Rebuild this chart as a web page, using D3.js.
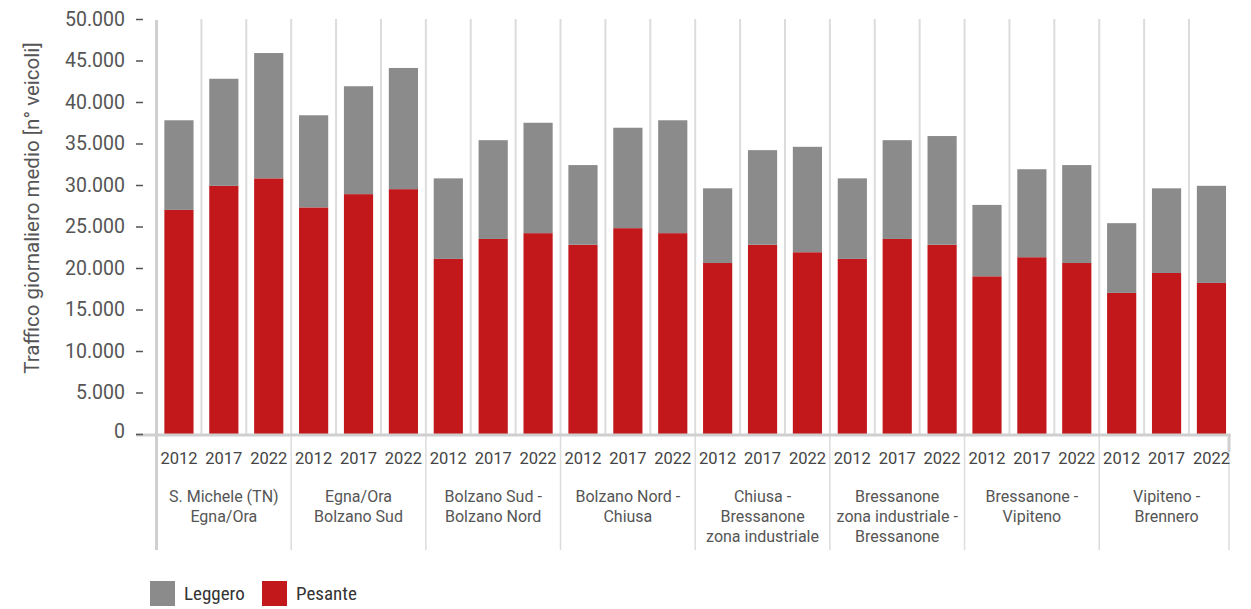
<!DOCTYPE html>
<html>
<head>
<meta charset="utf-8">
<script src="https://cdn.jsdelivr.net/npm/d3@7"></script>
<style>
  html, body { margin: 0; padding: 0; background: #fff; }
  svg { display: block; }
</style>
</head>
<body>
<svg id="chart" width="1251" height="609"></svg>
<script>
// ---- Data ----
const groups = [
  ["S. Michele (TN)", "Egna/Ora"],
  ["Egna/Ora", "Bolzano Sud"],
  ["Bolzano Sud -", "Bolzano Nord"],
  ["Bolzano Nord -", "Chiusa"],
  ["Chiusa -", "Bressanone", "zona industriale"],
  ["Bressanone", "zona industriale -", "Bressanone"],
  ["Bressanone -", "Vipiteno"],
  ["Vipiteno -", "Brennero"]
];
const years = ["2012", "2017", "2022"];
// Pesante (heavy) per group, per year
const pesante = [
  27000, 29900, 30800,
  27300, 28900, 29500,
  21100, 23500, 24200,
  22800, 24800, 24200,
  20600, 22800, 21900,
  21100, 23500, 22800,
  19000, 21300, 20600,
  17000, 19400, 18200
];
// Leggero (light) per group, per year
const leggero = [
  10800, 12900, 15100,
  11100, 13000, 14600,
  9700, 11900, 13300,
  9600, 12100, 13600,
  9000, 11400, 12700,
  9700, 11900, 13100,
  8600, 10600, 11800,
  8400, 10200, 11700
];
const yTicks = [0, 5000, 10000, 15000, 20000, 25000, 30000, 35000, 40000, 45000, 50000];
const yTitle = "Traffico giornaliero medio [n° veicoli]";
const seriesNames = ["Leggero", "Pesante"];
const colors = { Leggero: "#8a8b8a", Pesante: "#c2171b" };

// ---- Build table ----
const rows = [];
groups.forEach((g, gi) => {
  years.forEach((yr, yi) => {
    const i = gi * 3 + yi;
    rows.push({ key: gi + "-" + yr, group: gi, year: yr, Pesante: pesante[i], Leggero: leggero[i] });
  });
});

const svg = d3.select("#chart");
const yBottom = 434, yTop = 19;
const x = d3.scaleBand()
  .domain(rows.map(d => d.key))
  .range([156.5, 1233.9])
  .paddingInner(0.35)
  .paddingOuter(0.175);
const y = d3.scaleLinear().domain([0, 50000]).range([yBottom, yTop]);
const step = x.step(), bw = x.bandwidth();
const gap = (step - bw) / 2;

const fmt = d3.formatLocale({ decimal: ",", thousands: ".", grouping: [3], currency: ["", ""] }).format(",");

// vertical gridlines between bars
const bounds = rows.slice(1).map(d => x(d.key) - gap);
svg.append("g").selectAll("line").data(bounds).join("line")
  .attr("x1", d => d).attr("x2", d => d)
  .attr("y1", yTop).attr("y2", yBottom)
  .attr("stroke", "#dcdcdc").attr("stroke-width", 2);

// group separators below axis
const groupBounds = groups.slice(1).map((g, i) => x((i + 1) + "-2012") - gap);
svg.append("g").selectAll("line").data(groupBounds).join("line")
  .attr("x1", d => d).attr("x2", d => d)
  .attr("y1", yBottom).attr("y2", 550)
  .attr("stroke", "#dcdcdc").attr("stroke-width", 1.5);

// stacked bars
const stack = d3.stack().keys(["Pesante", "Leggero"]);
const stacked = stack(rows);
svg.append("g").selectAll("g").data(stacked).join("g")
  .attr("fill", s => colors[s.key])
  .selectAll("rect").data(s => s).join("rect")
  .attr("x", d => x(d.data.key))
  .attr("width", bw)
  .attr("y", d => y(d[1]))
  .attr("height", d => y(d[0]) - y(d[1]));

// left axis line
svg.append("line")
  .attr("x1", 156.5).attr("x2", 156.5)
  .attr("y1", yTop + 1).attr("y2", 550)
  .attr("stroke", "#cfcfcf").attr("stroke-width", 3);

// right end line below axis
const lastKey = rows[rows.length - 1].key;
const rightX = x(lastKey) + bw + 3;
svg.append("line")
  .attr("x1", rightX).attr("x2", rightX)
  .attr("y1", yBottom).attr("y2", 550)
  .attr("stroke", "#dcdcdc").attr("stroke-width", 1.5);
svg.append("line")
  .attr("x1", rightX).attr("x2", rightX)
  .attr("y1", yBottom).attr("y2", 452)
  .attr("stroke", "#cfcfcf").attr("stroke-width", 3);

// x axis baseline
svg.append("line")
  .attr("x1", 136).attr("x2", rightX + 1.5)
  .attr("y1", yBottom + 1).attr("y2", yBottom + 1)
  .attr("stroke", "#cfcfcf").attr("stroke-width", 3);

// y axis
const yAxis = d3.axisLeft(y).tickValues(yTicks).tickFormat(fmt).tickSize(7).tickPadding(11);
const ga = svg.append("g").attr("transform", "translate(143,0)").call(yAxis);
ga.select(".domain").remove();
ga.selectAll(".tick line").attr("stroke", "#555").attr("stroke-width", 1.5);
ga.selectAll(".tick text")
  .attr("fill", "#555")
  .style("font-family", "Roboto, 'Noto Sans', sans-serif")
  .style("font-size", "19.5px");
ga.selectAll(".tick").filter(d => d === 0).select("text").attr("dy", "0.2em");

// y title
svg.append("text")
  .attr("transform", "translate(39,208) rotate(-90)")
  .attr("text-anchor", "middle")
  .attr("fill", "#555")
  .style("font-family", "Roboto, 'Noto Sans', sans-serif")
  .style("font-size", "20.5px")
  .text(yTitle);

// year labels
svg.append("g").selectAll("text").data(rows).join("text")
  .attr("x", d => x(d.key) + bw / 2)
  .attr("y", 464)
  .attr("text-anchor", "middle")
  .attr("fill", "#444")
  .style("font-family", "Roboto, 'Noto Sans', sans-serif")
  .style("font-size", "16.5px")
  .text(d => d.year);

// group labels
const gl = svg.append("g").selectAll("text").data(groups).join("text")
  .attr("x", (g, i) => x(i + "-2017") + bw / 2)
  .attr("y", 502)
  .attr("text-anchor", "middle")
  .attr("fill", "#555")
  .style("font-family", "Roboto, 'Noto Sans', sans-serif")
  .style("font-size", "16px");
gl.selectAll("tspan").data(g => g).join("tspan")
  .attr("x", function () { return d3.select(this.parentNode).attr("x"); })
  .attr("dy", (d, i) => i === 0 ? 0 : 20)
  .text(d => d);

// legend
const leg = svg.append("g").selectAll("g").data(seriesNames).join("g")
  .attr("transform", (d, i) => `translate(${150 + i * 112},581)`);
leg.append("rect").attr("width", 25).attr("height", 25).attr("fill", d => colors[d]);
leg.append("text")
  .attr("x", 34).attr("y", 19)
  .attr("fill", "#333")
  .style("font-family", "'Liberation Sans Narrow', 'Roboto Condensed', Roboto, sans-serif")
  .style("font-size", "19px")
  .text(d => d);
</script>
</body>
</html>
